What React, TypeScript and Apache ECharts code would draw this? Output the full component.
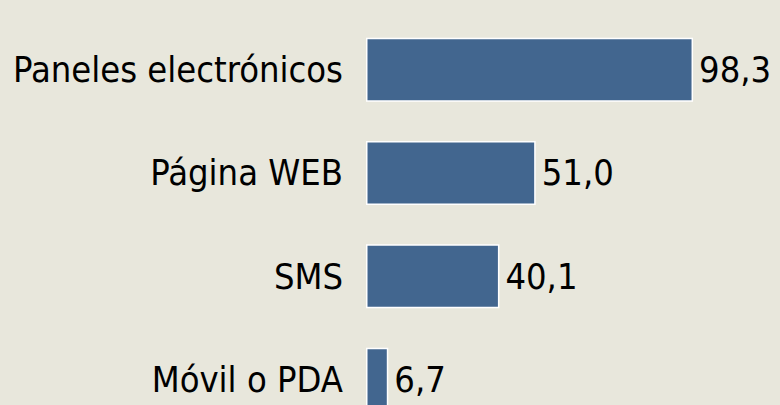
import React, { useEffect, useRef } from "react";
import * as echarts from "echarts";

const categories = ["Paneles electrónicos", "Página WEB", "SMS", "Móvil o PDA"];
const values = [98.3, 51.0, 40.1, 6.7];

export default function App() {
  const ref = useRef<HTMLDivElement>(null);
  useEffect(() => {
    document.body.style.margin = "0";
    const chart = echarts.init(ref.current!, undefined, { renderer: "svg" });
    const font = "'DejaVu Sans Condensed', 'DejaVu Sans', sans-serif";
    chart.setOption({
      animation: false,
      backgroundColor: "#e8e7dc",
      grid: {
        left: 366,
        top: 18,
        width: 332.7,
        height: 413.3,
        containLabel: false,
        outerBoundsMode: "none",
      },
      xAxis: { type: "value", min: 0, max: 100, show: false },
      yAxis: {
        type: "category",
        inverse: true,
        data: categories,
        axisLine: { show: false },
        axisTick: { show: false },
        axisLabel: { color: "#000", fontSize: 36, fontFamily: font, margin: 23 },
      },
      series: [
        {
          type: "bar",
          data: values,
          barWidth: 64,
          itemStyle: { color: "#42668f", borderColor: "#ffffff", borderWidth: 1.5 },
          label: {
            show: true,
            position: "right",
            distance: 6,
            color: "#000",
            fontSize: 36,
            fontFamily: font,
            formatter: (p: any) => p.value.toFixed(1).replace(".", ","),
          },
        },
      ],
    });
    return () => chart.dispose();
  }, []);
  return <div ref={ref} style={{ width: 780, height: 405 }} />;
}
